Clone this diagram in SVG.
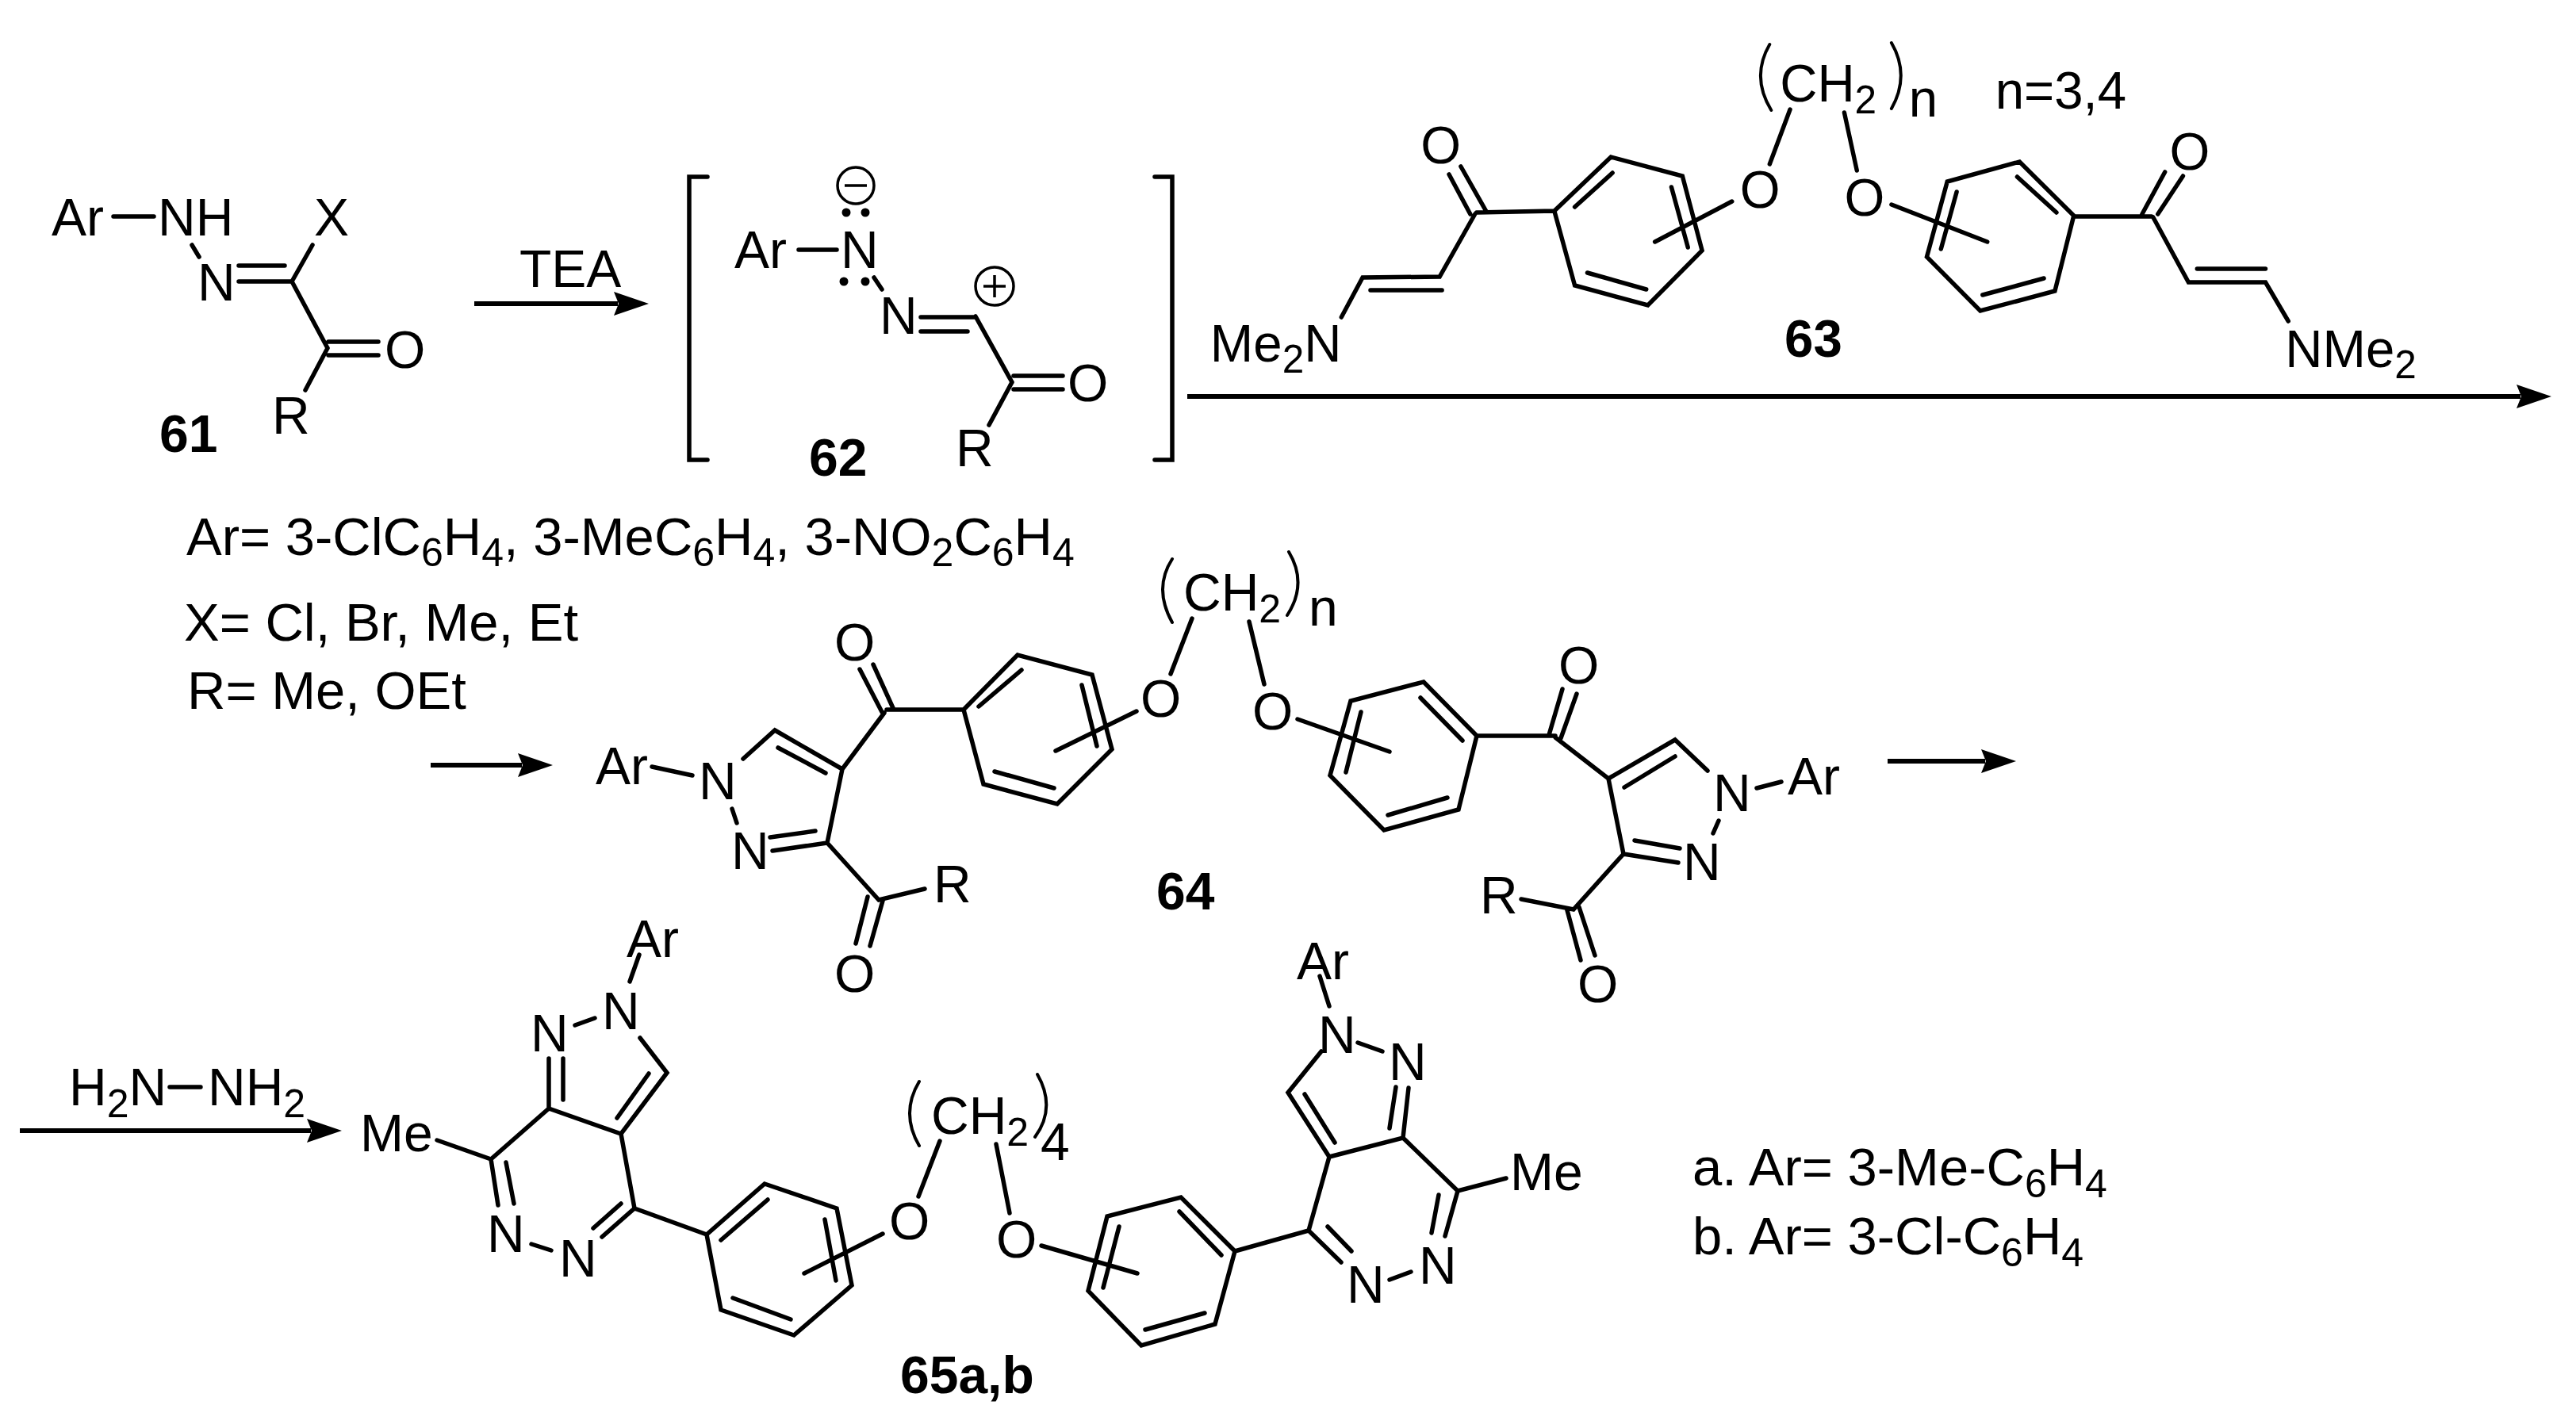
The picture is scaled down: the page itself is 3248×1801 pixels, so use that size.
<svg xmlns="http://www.w3.org/2000/svg" width="3248" height="1801" viewBox="0 0 3248 1801">
<style>
text{font-family:"Liberation Sans",Arial,sans-serif;font-size:66px;fill:#000}
tspan.s{font-size:50px}
.h{font-weight:bold;font-size:66px}
.l{font-size:67px}
.b{fill:none;stroke:#000;stroke-width:5.5;stroke-linecap:round;stroke-linejoin:miter}
.p{fill:none;stroke:#000;stroke-width:4;stroke-linecap:round}
.c{fill:none;stroke:#000;stroke-width:3.5}
.a{fill:none;stroke:#000;stroke-width:6}
.d{fill:#000}
</style>
<defs>
<marker id="ah" markerUnits="userSpaceOnUse" markerWidth="50" markerHeight="34" refX="5" refY="17" orient="auto" viewBox="0 0 50 34"><path d="M0,2 L44,17 L0,32 L6,17 Z" fill="#000"/></marker>
</defs>
<rect width="3248" height="1801" fill="#fff"/>

<g id="connectors">
<path class="a" marker-end="url(#ah)" d="M598,383 H779"/>
<path class="a" marker-end="url(#ah)" d="M1497,500 H3178"/>
<path class="a" marker-end="url(#ah)" d="M543,965 H658"/>
<path class="a" marker-end="url(#ah)" d="M2380,960 H2503"/>
<path class="a" marker-end="url(#ah)" d="M25,1426 H392"/>
<text x="655" y="362">TEA</text>
<text x="87" y="1394">H<tspan class="s" dy="15">2</tspan><tspan dy="-15">N</tspan></text>
<path class="b" d="M214,1371 H253"/>
<text x="262" y="1394">NH<tspan class="s" dy="15">2</tspan></text>
</g>

<g id="compound-61">
<path class="b" d="M143,273 H194 M242,309 L251,324 M301,355 H368 M301,335 H359 M368,355 L394,309 M368,355 L413,439 M414,431 H477 M414,448 H477 M413,439 L385,492"/>
<text x="65" y="297">Ar</text>
<text x="199" y="297">NH</text>
<text x="396" y="297">X</text>
<text x="249" y="379">N</text>
<text x="485" y="464">O</text>
<text x="343" y="547">R</text>
<text class="h" x="201" y="570">61</text>
</g>

<g id="compound-62">
<path class="b" d="M892,223 H869 V580 H892 M1456,223 H1478 V580 H1456"/>
<path class="b" d="M1007,315 H1055 M1102,350 L1112,365 M1161,400 H1230 M1161,418 H1220 M1230,399 L1276,482 M1278,474 H1340 M1278,491 H1340 M1276,482 L1247,536"/>
<text x="926" y="338">Ar</text>
<text x="1060" y="338">N</text>
<text x="1109" y="421">N</text>
<text x="1346" y="506">O</text>
<text x="1205" y="588">R</text>
<text class="h" x="1020" y="600">62</text>
<circle class="c" cx="1079" cy="234" r="23"/>
<path class="c" d="M1065,234 H1093"/>
<circle class="c" cx="1254" cy="361" r="24"/>
<path class="c" d="M1240,361 H1268 M1254,347 V375"/>
<circle class="d" cx="1067" cy="268" r="5.5"/><circle class="d" cx="1091" cy="268" r="5.5"/>
<circle class="d" cx="1064" cy="355" r="5.5"/><circle class="d" cx="1091" cy="355" r="5.5"/>
</g>

<g id="legend-61">
<text class="l" x="235" y="700">Ar= 3-ClC<tspan class="s" dy="14">6</tspan><tspan dy="-14">H</tspan><tspan class="s" dy="14">4</tspan><tspan dy="-14">, 3-MeC</tspan><tspan class="s" dy="14">6</tspan><tspan dy="-14">H</tspan><tspan class="s" dy="14">4</tspan><tspan dy="-14">, 3-NO</tspan><tspan class="s" dy="14">2</tspan><tspan dy="-14">C</tspan><tspan class="s" dy="14">6</tspan><tspan dy="-14">H</tspan><tspan class="s" dy="14">4</tspan></text>
<text class="l" x="232" y="808">X= Cl, Br, Me, Et</text>
<text class="l" x="236" y="894">R= Me, OEt</text>
</g>

<g id="compound-63" transform="matrix(.9908 0 0 1 12.9 0)">
<path class="p" d="M2239,56 Q2215,97 2241,139 M2394,54 Q2418,95 2394,137"/>
<path class="b" d="M2265,138 L2239,207 M2334,142 L2350,215"/>
<path class="b" d="M1965,266 L2037,198 L2128,222 L2153,316 L2084,385 L1991,360 Z M1991,261 L2039,218 M2114,236 L2135,312 M2007,344 L2082,365 M2191,254 L2093,305 M1965,266 L1866,268 M1846,210 L1878,266 M1831,220 L1858,270 M1864,270 L1819,349 L1721,350 L1694,400 M1822,366 H1731"/>
<path class="b" d="M2626,272 L2557,204 L2465,229 L2439,324 L2507,392 L2602,367 Z M2554,223 L2604,268 M2477,242 L2457,314 M2588,351 L2510,372 M2394,258 L2516,305 M2626,273 H2725 M2742,217 L2713,270 M2765,222 L2733,270 M2727,274 L2772,356 L2870,356 L2899,405 M2783,339 H2870"/>
<text x="2252" y="128">CH<tspan class="s" dy="15">2</tspan></text>
<text x="2416" y="147">n</text>
<text x="2526" y="137">n=3,4</text>
<text x="2201" y="262">O</text>
<text x="2334" y="272">O</text>
<text x="1795" y="206">O</text>
<text x="2748" y="214">O</text>
<text x="1527" y="456">Me<tspan class="s" dy="14">2</tspan><tspan dy="-14">N</tspan></text>
<text x="2895" y="463">NMe<tspan class="s" dy="14">2</tspan></text>
<text class="h" x="2258" y="450">63</text>
</g>

<g id="compound-64">
<path class="p" d="M1478,705 Q1454,742 1478,785 M1625,696 Q1649,736 1623,776"/>
<path class="b" d="M1503,780 L1476,850 M1575,784 L1594,863"/>
<path class="b" d="M822,967 L873,978 M937,957 L977,921 L1062,970 M981,943 L1041,975 M1062,970 L1115,899 M1118,895 H1215 M1084,844 L1112,898 M1101,838 L1126,893 M1215,895 L1283,826 L1377,851 L1402,945 L1333,1014 L1240,989 Z M1234,891 L1288,845 M1364,864 L1383,941 M1254,973 L1329,994 M1433,897 L1331,947 M1062,970 L1043,1063 M923,1020 L929,1038 M1043,1063 L974,1073 M1028,1048 L971,1056 M1043,1063 L1108,1135 L1166,1121 M1094,1131 L1079,1190 M1113,1136 L1097,1193"/>
<path class="b" d="M1636,907 L1752,948 M1862,928 L1795,860 L1703,884 L1677,978 L1745,1047 L1839,1021 Z M1844,934 L1791,880 M1716,898 L1697,974 M1825,1006 L1750,1028 M1862,928 H1961 M1970,869 L1953,927 M1988,875 L1968,931 M1961,930 L2028,982 L2112,933 L2153,972 M2048,993 L2112,954 M2215,994 L2246,986 M2028,982 L2047,1077 L2116,1088 M2061,1060 L2118,1070 M2167,1035 L2160,1051 M2047,1077 L1984,1147 L1918,1134 M1976,1148 L1993,1211 M1991,1144 L2011,1205"/>
<text x="751" y="989">Ar</text>
<text x="881" y="1008">N</text>
<text x="922" y="1096">N</text>
<text x="1052" y="833">O</text>
<text x="1438" y="904">O</text>
<text x="1579" y="920">O</text>
<text x="1492" y="770">CH<tspan class="s" dy="15">2</tspan></text>
<text x="1650" y="789">n</text>
<text x="1177" y="1138">R</text>
<text x="1052" y="1251">O</text>
<text class="h" x="1458" y="1147">64</text>
<text x="1965" y="862">O</text>
<text x="2160" y="1023">N</text>
<text x="2254" y="1002">Ar</text>
<text x="2122" y="1110">N</text>
<text x="1866" y="1152">R</text>
<text x="1989" y="1264">O</text>
</g>

<g id="compound-65">
<path class="p" d="M1159,1364 Q1135,1404 1159,1445 M1308,1355 Q1332,1397 1305,1434"/>
<path class="b" d="M1185,1439 L1158,1509 M1256,1443 L1273,1530"/>
<path class="b" d="M551,1438 L619,1462 M806,1204 L794,1238 M725,1293 L750,1284 M807,1309 L841,1353 L783,1430 L692,1398 M818,1354 L778,1410 M692,1398 V1335 M710,1387 V1335 M692,1398 L619,1462 L628,1520 M638,1466 L648,1518 M670,1569 L695,1577 M800,1524 L759,1560 M783,1518 L748,1549 M783,1430 L800,1524 L891,1557 M891,1557 L964,1493 L1055,1524 L1074,1621 L1001,1684 L909,1652 Z M909,1564 L968,1513 M1040,1538 L1054,1615 M924,1637 L997,1664 M1113,1556 L1014,1606"/>
<path class="b" d="M1313,1571 L1434,1606 M1557,1578 L1489,1510 L1396,1534 L1372,1628 L1439,1697 L1532,1670 Z M1540,1583 L1487,1528 M1411,1547 L1391,1624 M1519,1656 L1444,1677 M1557,1578 L1650,1552 L1676,1459 L1624,1378 L1666,1326 M1683,1441 L1645,1380 M1676,1269 L1664,1231 M1712,1315 L1743,1326 M1769,1435 L1776,1372 M1752,1423 L1760,1371 M1676,1459 L1769,1435 L1838,1502 L1899,1486 M1838,1502 L1822,1559 M1814,1507 L1805,1555 M1779,1604 L1752,1614 M1650,1552 L1691,1592 M1674,1547 L1704,1578"/>
<text x="454" y="1452">Me</text>
<text x="790" y="1207">Ar</text>
<text x="759" y="1298">N</text>
<text x="669" y="1326">N</text>
<text x="614" y="1579">N</text>
<text x="705" y="1610">N</text>
<text x="1121" y="1563">O</text>
<text x="1256" y="1586">O</text>
<text x="1174" y="1430">CH<tspan class="s" dy="15">2</tspan></text>
<text x="1312" y="1463">4</text>
<text class="h" x="1135" y="1757">65a,b</text>
<text x="1662" y="1328">N</text>
<text x="1635" y="1235">Ar</text>
<text x="1751" y="1362">N</text>
<text x="1904" y="1501">Me</text>
<text x="1789" y="1619">N</text>
<text x="1698" y="1643">N</text>
</g>

<g id="legend-65">
<text class="l" x="2134" y="1495">a. Ar= 3-Me-C<tspan class="s" dy="15">6</tspan><tspan dy="-15">H</tspan><tspan class="s" dy="15">4</tspan></text>
<text class="l" x="2134" y="1582">b. Ar= 3-Cl-C<tspan class="s" dy="15">6</tspan><tspan dy="-15">H</tspan><tspan class="s" dy="15">4</tspan></text>
</g>
</svg>
